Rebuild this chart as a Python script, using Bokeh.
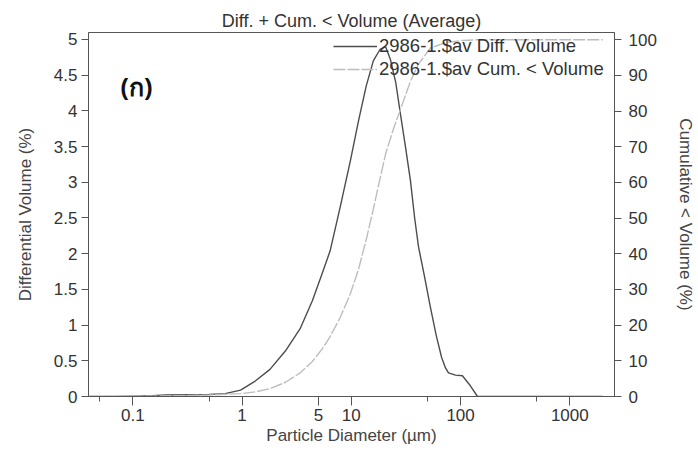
from bokeh.plotting import figure
from bokeh.models import (Range1d, LinearAxis, FixedTicker, Legend, LegendItem,
                          Label, NumeralTickFormatter)
from bokeh.embed import file_html
from bokeh.resources import INLINE

# Differential volume distribution (left axis, %)
diff_diam = [0.04, 0.07, 0.1, 0.15, 0.2, 0.3, 0.5, 0.7, 0.97, 1.33, 1.8, 2.5,
             3.4, 4.4, 5.4, 6.4, 7.9, 9.8, 11.6, 13.7, 15.9, 18.3, 20.6, 22.8,
             25.5, 28.2, 31.3, 34.8, 38.0, 41.2, 46.5, 53.1, 60.0, 67.0, 72.8,
             77.6, 89.9, 104, 123, 143, 2000]
diff_vol = [0, 0, 0.005, 0.01, 0.02, 0.025, 0.03, 0.04, 0.09, 0.22, 0.38, 0.64,
            0.95, 1.34, 1.72, 2.04, 2.65, 3.3, 3.85, 4.35, 4.7, 4.86, 4.9, 4.72,
            4.4, 3.95, 3.5, 3.02, 2.5, 2.1, 1.7, 1.24, 0.85, 0.55, 0.4,
            0.33, 0.3, 0.29, 0.15, 0, 0]

# Cumulative < volume (right axis, %)
cum_diam = [0.04, 0.15, 0.5, 0.97, 1.33, 1.8, 2.5, 3.4, 4.4, 5.4, 6.4, 7.9, 9.8,
            11.6, 13.7, 15.9, 18.3, 20.6, 24.3, 28.2, 34.8, 41.2, 53.1, 72.8,
            104, 143, 2000]
cum_vol = [0, 0.1, 0.4, 0.8, 1.3, 2.2, 4.0, 6.6, 9.8, 13.3, 16.8, 22.1, 28.8,
           35.5, 44, 52.5, 61, 68, 75, 80.5, 88.4, 93.2, 97.7, 99.2, 99.8, 100, 100]

x_major = [0.1, 1, 5, 10, 100, 1000]
x_minor = [0.05, 0.5, 50, 500]
x_labels = ["0.1", "1", "5", "10", "100", "1000"]
left_ticks = [0, 0.5, 1, 1.5, 2, 2.5, 3, 3.5, 4, 4.5, 5]
right_ticks = [0, 10, 20, 30, 40, 50, 60, 70, 80, 90, 100]

FONT = "Liberation Sans"
AX = "#555555"
TXT = "#333333"

p = figure(width=698, height=452, x_axis_type="log",
           x_range=Range1d(0.0393, 2565), y_range=Range1d(0, 5.098),
           output_backend="svg", toolbar_location=None,
           min_border_left=88, min_border_right=84,
           min_border_top=32, min_border_bottom=56,
           title="Diff. + Cum. < Volume (Average)")
p.extra_y_ranges = {"cum": Range1d(0, 102.05)}

p.title.align = "center"
p.title.text_font = FONT
p.title.text_font_size = "18px"
p.title.text_font_style = "normal"
p.title.text_color = TXT
p.title.standoff = 4

p.grid.visible = False
p.outline_line_color = AX
p.outline_line_alpha = 1.0
p.background_fill_color = "white"
p.border_fill_color = "white"

r_diff = p.line(diff_diam, diff_vol, line_color="#4d4d4d", line_width=1.4)
r_cum = p.line(cum_diam, cum_vol, y_range_name="cum", line_color="#bdbdbd",
               line_width=1.4, line_dash="12 2")

# bottom axis
xa = p.xaxis[0]
xa.ticker = FixedTicker(ticks=x_major, minor_ticks=x_minor)
xa.major_label_overrides = {str(t): s for t, s in zip(x_major, x_labels)}
xa.major_label_overrides.update({"1": "1", "5": "5", "10": "10",
                                 "100": "100", "1000": "1000"})
xa.axis_label = "Particle Diameter (µm)"

# left axis
ya = p.yaxis[0]
ya.ticker = FixedTicker(ticks=left_ticks)
ya.formatter = NumeralTickFormatter(format="0.[0]")
ya.axis_label = "Differential Volume (%)"

# right axis
ra = LinearAxis(y_range_name="cum", ticker=FixedTicker(ticks=right_ticks),
                axis_label="Cumulative < Volume (%)")
p.add_layout(ra, "right")

for ax in (xa, ya, ra):
    ax.axis_line_color = AX
    ax.major_tick_line_color = AX
    ax.minor_tick_line_color = AX
    ax.major_tick_in = 0
    ax.minor_tick_in = 0
    ax.major_tick_out = 7
    ax.minor_tick_out = 4
    ax.major_label_text_font = FONT
    ax.major_label_text_font_size = "17px"
    ax.major_label_text_color = TXT
    ax.axis_label_text_font = FONT
    ax.axis_label_text_font_size = "17px"
    ax.axis_label_text_font_style = "normal"
    ax.axis_label_text_color = "#444444"
    ax.major_label_standoff = 5

xa.major_tick_out = 9
xa.minor_tick_out = 5
xa.major_label_standoff = 3
xa.axis_label_standoff = 2
ya.axis_label_standoff = 16
ra.axis_label_standoff = 16
ra.major_label_standoff = 7
ya.major_label_standoff = 4

legend = Legend(items=[LegendItem(label="2986-1.$av Diff. Volume", renderers=[r_diff]),
                       LegendItem(label="2986-1.$av Cum. < Volume", renderers=[r_cum])],
                location=(245, 316), padding=0, margin=0, spacing=1,
                glyph_width=44, glyph_height=20, label_height=20,
                label_standoff=2, border_line_alpha=0, background_fill_alpha=0,
                label_text_font=FONT, label_text_font_size="18.5px",
                label_text_color=TXT)
p.add_layout(legend)

p.add_layout(Label(x=0.077, y=4.355, text="(ก)", text_font="Noto Sans",
                   text_font_size="25px", text_font_style="bold",
                   text_baseline="middle", text_color="#111111"))

open("out.html", "w").write(file_html(p, INLINE))
